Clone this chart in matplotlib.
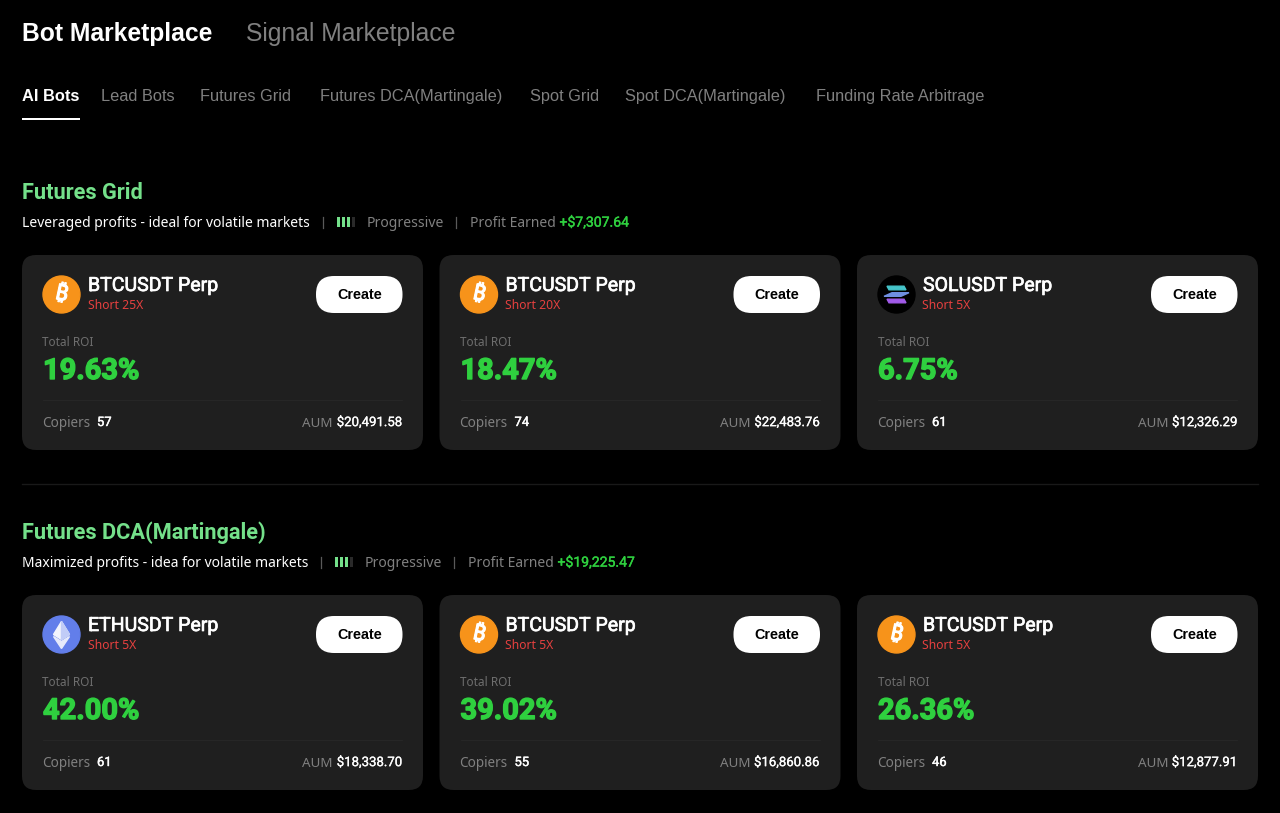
import matplotlib
matplotlib.use('Agg')
import matplotlib.pyplot as plt
import matplotlib.patheffects as pe
from matplotlib.patches import FancyBboxPatch, Circle, Polygon, Rectangle

top_tabs = ['Bot Marketplace', 'Signal Marketplace']
nav_tabs = ['AI Bots', 'Lead Bots', 'Futures Grid', 'Futures DCA(Martingale)', 'Spot Grid', 'Spot DCA(Martingale)', 'Funding Rate Arbitrage']

section_titles = ['Futures Grid', 'Futures DCA(Martingale)']
section_notes = ['Leveraged profits - ideal for volatile markets', 'Maximized profits - idea for volatile markets']
section_profit = ['+$7,307.64', '+$19,225.47']

coins = [['BTC', 'BTC', 'SOL'], ['ETH', 'BTC', 'BTC']]
pairs = [['BTCUSDT Perp', 'BTCUSDT Perp', 'SOLUSDT Perp'], ['ETHUSDT Perp', 'BTCUSDT Perp', 'BTCUSDT Perp']]
sides = [['Short 25X', 'Short 20X', 'Short 5X'], ['Short 5X', 'Short 5X', 'Short 5X']]
roi = [['19.63%', '18.47%', '6.75%'], ['42.00%', '39.02%', '26.36%']]
copiers = [['57', '74', '61'], ['61', '55', '46']]
aum = [['$20,491.58', '$22,483.76', '$12,326.29'], ['$18,338.70', '$16,860.86', '$12,877.91']]

WHITE = '#ffffff'
GREY = '#808080'
GREEN = '#2fd03f'
MINT = '#74e08a'
RED = '#e5403f'
CARD = '#1f1f1f'
HEAD = 'Liberation Sans'
BODY = 'Noto Sans'
NUM = 'Roboto'

fig = plt.figure(figsize=(12.8, 8.13), dpi=100, facecolor='black')
ax = fig.add_axes([0, 0, 1, 1])
ax.set_xlim(0, 1280)
ax.set_ylim(813, 0)
ax.axis('off')


def px(size):
    return size * 0.72


def label(x, y, s, size, color, family=BODY, weight='normal', ha='left', heavy=0):
    t = ax.text(x, y, s, fontsize=px(size), color=color, family=family, weight=weight, ha=ha, va='center', zorder=5)
    if heavy:
        t.set_path_effects([pe.withStroke(linewidth=heavy, foreground=color)])
    return t


def draw_icon(cx, cy, coin):
    if coin == 'BTC':
        ax.add_patch(Circle((cx, cy), 18.5, color='#f7931a', zorder=2))
        t = ax.text(cx, cy, '\u20bf', fontsize=px(22), color=WHITE, family=['Noto Sans', 'Inter', 'Roboto', 'Open Sans', 'Lato', 'Liberation Sans'],
                    weight='bold', ha='center', va='center', rotation=-12, zorder=3)
        t.set_path_effects([pe.withStroke(linewidth=0.8, foreground=WHITE)])
    elif coin == 'ETH':
        ax.add_patch(Circle((cx, cy), 18.5, color='#627eea', zorder=2))
        ax.add_patch(Polygon([(cx, cy - 13), (cx + 8, cy), (cx, cy + 5), (cx - 8, cy)], color='#f2f4fd', zorder=3))
        ax.add_patch(Polygon([(cx, cy - 13), (cx + 8, cy), (cx, cy + 5)], color='#c1ccf7', zorder=4))
        ax.add_patch(Polygon([(cx - 8, cy + 2), (cx, cy + 7), (cx + 8, cy + 2), (cx, cy + 14)], color='#e6eafb', zorder=3))
    else:
        ax.add_patch(Circle((cx, cy), 18.5, color='black', zorder=2))
        bars = [(-6.5, '#45c4c9'), (0, '#6f8fe0'), (6.5, '#a15ae8')]
        for i, (dy, col) in enumerate(bars):
            skew = 2.5 if i == 1 else -2.5
            y0 = cy + dy
            ax.add_patch(Polygon([(cx - 10 - skew, y0 + 1.8), (cx + 7 - skew, y0 + 1.8), (cx + 10 + skew, y0 - 1.8),
                                  (cx - 7 + skew, y0 - 1.8)], color=col, zorder=3))


def draw_card(x0, y0, r, c):
    ax.add_patch(FancyBboxPatch((x0 + 14, y0 + 14), 401 - 28, 195 - 28, boxstyle='round,pad=14,rounding_size=14',
                                fc=CARD, ec='none', zorder=1))
    draw_icon(x0 + 39.5, y0 + 39.5, coins[r][c])
    label(x0 + 66, y0 + 31, pairs[r][c], 19.5, WHITE, NUM, heavy=0.5)
    label(x0 + 65.5, y0 + 50.5, sides[r][c], 12.2, RED)
    ax.add_patch(FancyBboxPatch((x0 + 294 + 18, y0 + 21 + 18), 86.5 - 36, 1, boxstyle='round,pad=18,rounding_size=18',
                                fc=WHITE, ec='none', zorder=2))
    label(x0 + 337.5, y0 + 39.5, 'Create', 14.4, 'black', HEAD, 'bold', 'center')
    label(x0 + 20.5, y0 + 87.5, 'Total ROI', 11.8, '#6e6e6e')
    label(x0 + 21, y0 + 116, roi[r][c], 29, GREEN, NUM, 'bold', heavy=1.0)
    ax.plot([x0 + 21, x0 + 380], [y0 + 145, y0 + 145], color='#282828', lw=0.6, zorder=2)
    label(x0 + 20, y0 + 168, 'Copiers', 13.5, GREY)
    label(x0 + 75, y0 + 167.5, copiers[r][c], 13, WHITE, NUM, heavy=0.3)
    label(x0 + 380.5, y0 + 167.5, aum[r][c], 13.2, WHITE, NUM, ha='right', heavy=0.2)
    label(x0 + 311, y0 + 168, 'AUM', 13.4, GREY, ha='right')


# header
label(22, 33.5, top_tabs[0], 24.6, WHITE, HEAD, 'bold')
label(246, 33.5, top_tabs[1], 24.7, GREY, HEAD)
nav_x = [22, 101, 200, 319.5, 529.5, 625, 815.5]
for i, name in enumerate(nav_tabs):
    label(nav_x[i], 96.5, name, 16.4, WHITE if i == 0 else GREY, HEAD, 'bold' if i == 0 else 'normal')
ax.add_patch(Rectangle((22, 118.5), 57.5, 1.5, fc=WHITE, lw=0))

# sections
sep_x = [[322, 455], [320, 453]]
bars_x = [337, 334.5]
prog_x = [367, 364.5]
earn_x = [470, 468]
gain_x = [559.5, 557.5]
card_x = [22, 439.5, 857]
for r, dy in enumerate([0, 340]):
    label(22, 192.5 + dy, section_titles[r], 21.8, MINT, NUM, 'bold')
    label(22, 223 + dy, section_notes[r], 13.9, WHITE)
    for sx in sep_x[r]:
        ax.plot([sx + 1, sx + 1], [217 + dy, 228 + dy], color='#5a5a5a', lw=0.9)
    for b in range(4):
        ax.add_patch(Rectangle((bars_x[r] + b * 5, 216.5 + dy), 3, 10.5, fc=MINT if b < 3 else '#2a2a2a', lw=0))
    label(prog_x[r], 223 + dy, 'Progressive', 14, GREY)
    label(earn_x[r], 223 + dy, 'Profit Earned', 13.9, GREY)
    label(gain_x[r], 222.5 + dy, section_profit[r], 14, GREEN, NUM, heavy=0.3)
    for c in range(3):
        draw_card(card_x[c], 255 + dy, r, c)

ax.plot([22, 1258], [484, 484], color='#191919', lw=1)

fig.savefig('out.png', dpi=100, facecolor='black')
